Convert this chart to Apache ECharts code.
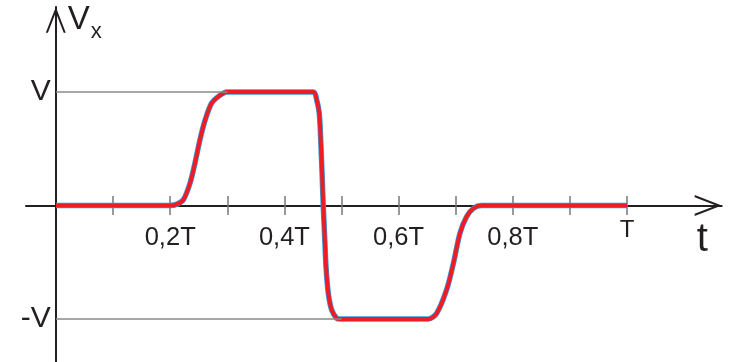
<!DOCTYPE html>
<html><head><meta charset="utf-8">
<script src="https://cdn.jsdelivr.net/npm/echarts@6/dist/echarts.min.js"></script>
<style>html,body{margin:0;padding:0;background:#fff}#c{width:733px;height:362px}</style>
</head><body><div id="c"></div>
<script>
// time in units of T, voltage in units of V
const curveT = [0, 0.2, 0.212, 0.223, 0.2347, 0.2434, 0.252, 0.261, 0.2727, 0.287, 0.299,
  0.4506, 0.4566, 0.4611, 0.4641, 0.4664, 0.4681, 0.4705, 0.4729, 0.4769, 0.4828, 0.4916, 0.4974,
  0.652, 0.6667, 0.684, 0.696, 0.7075, 0.719, 0.731, 0.7455, 1.0];
const curveV = [0, 0, 0.012, 0.05, 0.196, 0.374, 0.577, 0.75, 0.903, 0.97, 1.0,
  1.0, 0.93, 0.81, 0.518, 0.225, -0.01, -0.275, -0.54, -0.774, -0.92, -0.994, -1.0,
  -1.0, -0.95, -0.744, -0.509, -0.245, -0.099, -0.025, 0, 0];
const xTickValues = [0.1, 0.2, 0.3, 0.4, 0.5, 0.6, 0.7, 0.8, 0.9, 1.0];
const xLabelValues = [0.2, 0.4, 0.6, 0.8];
const xLabelTexts = ['0,2T', '0,4T', '0,6T', '0,8T'];
const endLabelValues = [1.0];
const endLabelTexts = ['T'];
const yLabelValues = [1, -1];
const yLabelTexts = ['V', '-V'];
const levelValues = [1, -1];
const levelEnds = [0.3, 0.5];

const INK = '#231f20';
const FONT = 'Liberation Sans, Arial, sans-serif';
const chevron = 'path://M0,27 L10.5,0 L21,27 L18.8,27 L10.5,5.66 L2.2,27 Z';
function pick(vals, texts, v) {
  for (let i = 0; i < vals.length; i++) if (Math.abs(vals[i] - v) < 1e-6) return texts[i];
  return '';
}
const curve = curveT.map((t, i) => [t, curveV[i]]);
const xMin = -0.05254, xMax = 1.16585, yMin = -1.3789, yMax = 1.7489;
// grid: left 26, top 7, width 695.7, height 355 -> zero at x=55.8, y=205.5
const X_OFF = -156.5, Y_OFF = -29.8;

const chart = echarts.init(document.getElementById('c'), null, {renderer: 'canvas'});
chart.setOption({
  animation: false,
  backgroundColor: '#fff',
  grid: {left: 26, right: 11.3, top: 7, bottom: 0, outerBoundsMode: 'none', containLabel: false},
  xAxis: [{
    type: 'value', min: xMin, max: xMax, position: 'bottom', offset: X_OFF,
    axisLine: {show: true, onZero: false, symbol: ['none', chevron], symbolSize: [21, 27], symbolOffset: [0, -13.5],
      lineStyle: {color: INK, width: 2}},
    axisTick: {show: true, inside: false, length: 9.5, customValues: xTickValues, lineStyle: {color: '#77787b', width: 1.5}},
    axisLabel: {show: true, customValues: xLabelValues, margin: 19, color: INK, fontSize: 25.5, fontFamily: FONT,
      formatter: v => pick(xLabelValues, xLabelTexts, v)},
    splitLine: {show: false},
    name: 't', nameLocation: 'end', nameGap: -25,
    nameTextStyle: {color: INK, fontSize: 40, fontFamily: FONT, align: 'left', verticalAlign: 'top', padding: [14, 0, 0, 0]}
  }, {
    type: 'value', min: xMin, max: xMax, position: 'bottom', offset: X_OFF,
    axisLine: {show: false, onZero: false},
    axisTick: {show: true, inside: true, length: 9.5, customValues: xTickValues, lineStyle: {color: '#77787b', width: 1.5}},
    axisLabel: {show: true, customValues: endLabelValues, margin: 13, color: INK, fontSize: 24, fontFamily: FONT,
      formatter: v => pick(endLabelValues, endLabelTexts, v)},
    splitLine: {show: false}
  }],
  yAxis: {
    type: 'value', min: yMin, max: yMax, position: 'left', offset: Y_OFF,
    axisLine: {show: true, onZero: false, symbol: ['none', chevron], symbolSize: [20, 25.7], symbolOffset: [0, -12.85],
      lineStyle: {color: INK, width: 2}},
    axisTick: {show: false},
    axisLabel: {show: true, customValues: yLabelValues, margin: 5, color: INK, fontSize: 30, fontFamily: FONT,
      formatter: v => pick(yLabelValues, yLabelTexts, v)},
    splitLine: {show: false},
    name: '{v|V}{x|x}', nameLocation: 'end', nameGap: 4,
    nameTextStyle: {align: 'left', verticalAlign: 'top', padding: [0, 0, 0, 12],
      rich: {
        v: {fontSize: 33, lineHeight: 33, verticalAlign: 'top', color: INK, fontFamily: FONT},
        x: {fontSize: 22, lineHeight: 22, verticalAlign: 'top', padding: [17.5, 0, 0, 1], color: INK, fontFamily: FONT}
      }}
  },
  series: [{
    type: 'line', data: [], z: 1, silent: true,
    markLine: {silent: true, symbol: 'none', label: {show: false}, lineStyle: {color: '#8a8a8a', width: 1.5, type: 'solid'},
      data: levelValues.map((v, i) => [{coord: [0, v]}, {coord: [levelEnds[i], v]}])}
  }, {
    type: 'line', data: curve, showSymbol: false, smooth: 0.3, z: 3,
    lineStyle: {color: '#3b9ad8', width: 5.5}
  }, {
    type: 'line', data: curve, showSymbol: false, smooth: 0.3, z: 4,
    lineStyle: {color: '#ee1c25', width: 4}
  }]
});
</script></body></html>
